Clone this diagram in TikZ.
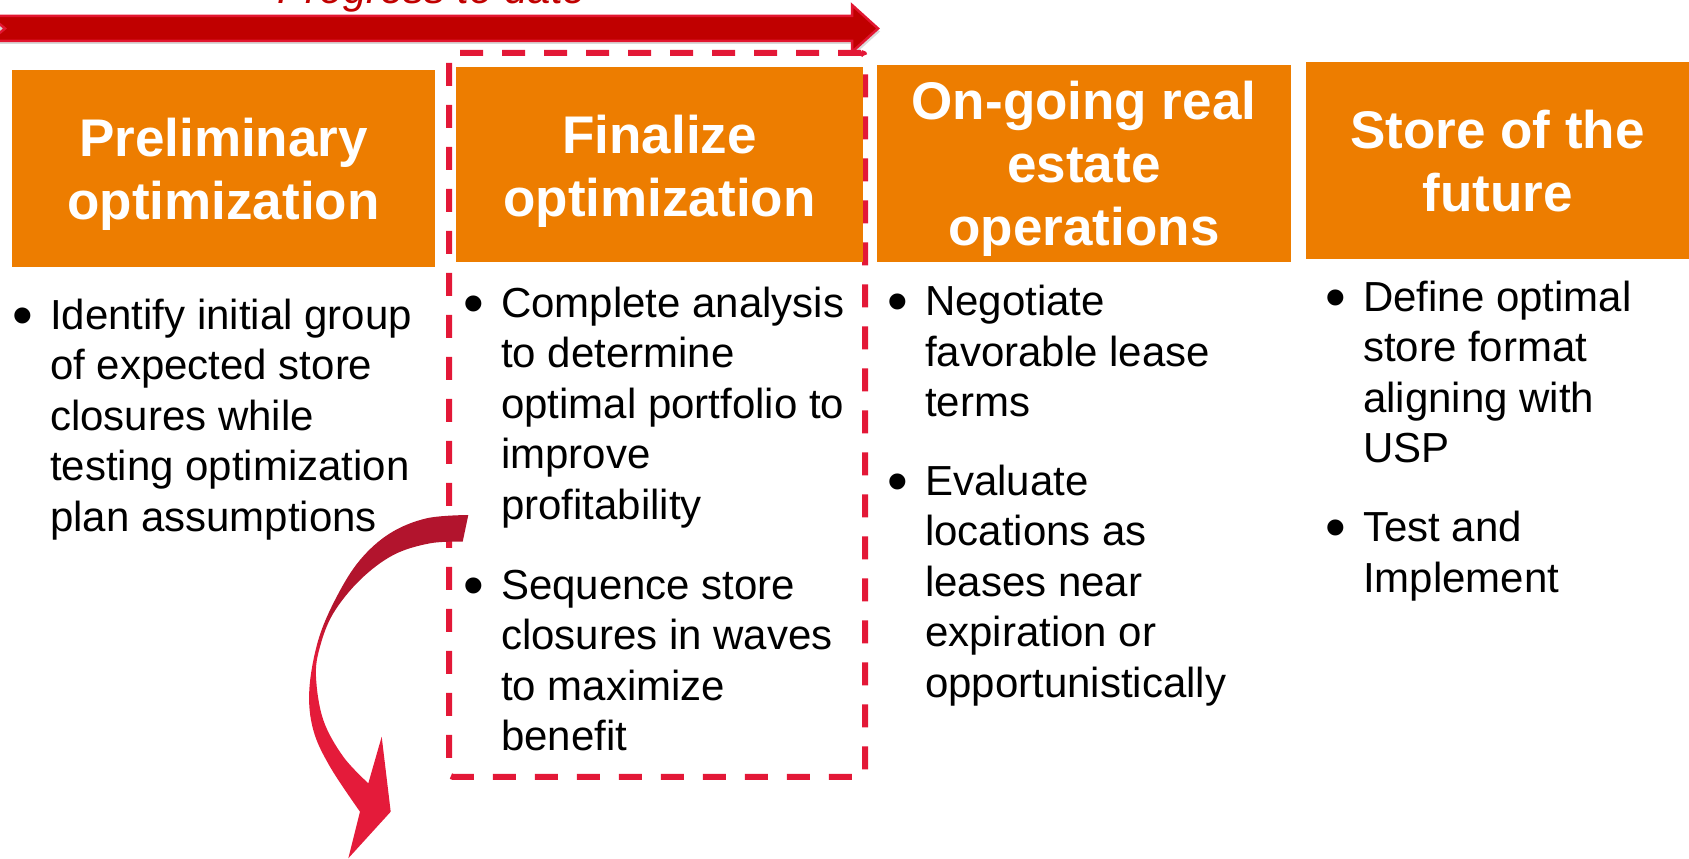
\documentclass[tikz,border=0pt]{standalone}
\usepackage{fontspec}
\setmainfont{Liberation Sans}
\definecolor{stageorange}{RGB}{237,125,0}
\definecolor{focusred}{RGB}{227,24,55}
\definecolor{progressred}{RGB}{192,0,0}
\definecolor{progressedge}{RGB}{226,22,48}
\definecolor{curvedark}{RGB}{178,20,45}
\definecolor{curvebright}{RGB}{228,27,58}
% dark upper half of the bent arrow fading into a bright lower half
\pgfdeclareverticalshading{curveshade}{100bp}{color(0bp)=(curvebright); color(54bp)=(curvebright); color(61bp)=(curvedark); color(100bp)=(curvedark)}
% hanging bullet, a little larger than the body text
\newcommand\bul{\llap{\raisebox{-6pt}{\fontsize{59}{50}\selectfont•}\hskip 16.7pt}}
\begin{document}
\begin{tikzpicture}[x=1pt,y=-1pt,
  stagebox/.style={fill=stageorange, draw=none, inner sep=0pt, outer sep=0pt},
  stagetitle/.style={text=white, font=\fontsize{53}{63.3}\selectfont\bfseries, align=center, anchor=base, inner sep=0pt},
  bodytext/.style={font=\fontsize{42}{50.5}\selectfont, align=left, anchor=base west, inner sep=0pt, text=black},
  focusframe/.style={draw=focusred, line width=6pt, dash pattern=on 23pt off 19pt, rounded corners=4pt, inner sep=0pt}]
\useasboundingbox (0,0) rectangle (1689,859);

% progress arrow across the top
\fill[black, opacity=0.15, shift={(2,3)}] (-10,16) -- (852,16) -- (852,5) -- (878,28.5) -- (852,52) -- (852,41) -- (-10,41) -- cycle;
\filldraw[fill=progressred, draw=progressedge, line width=2.5pt, line join=miter]
  (-10,16) -- (852,16) -- (852,5) -- (878,28.5) -- (852,52) -- (852,41) -- (-10,41) -- (5,28.5) -- cycle;
\node[font=\fontsize{42}{50}\selectfont\itshape, text=progressred, anchor=base, inner sep=0pt] (progress) at (432,4) {Progress to date};

% current stage frame
\node[focusframe, minimum width=416pt, minimum height=724pt] (focus) at (657,414.9) {};

% stage header boxes
\node[stagebox, minimum width=423pt, minimum height=197pt] (box1) at (223.5,168.5) {};
\node[stagebox, minimum width=407pt, minimum height=195pt] (box2) at (659.5,164.5) {};
\node[stagebox, minimum width=414pt, minimum height=197pt] (box3) at (1084,163.5) {};
\node[stagebox, minimum width=383pt, minimum height=197pt] (box4) at (1497.5,160.5) {};

% titles: positions give the baseline of the last line
\node[stagetitle] (head1) at (223.5,219.5) {Preliminary\\optimization};
\node[stagetitle] (head2) at (659.5,216.8) {Finalize\\optimization};
\node[stagetitle] (head3) at (1084,245.6) {On-going real\\estate\\operations};
\node[stagetitle] (head4) at (1497.5,211.8) {Store of the\\future};

% bullet lists: positions give the baseline of the last line
\node[bodytext] (list1) at (50,531) {\bul Identify initial group\\of expected store\\closures while\\testing optimization\\plan assumptions};
\node[bodytext] (list2) at (501,750.5) {\bul Complete analysis\\to determine\\optimal portfolio to\\improve\\profitability\\[29.5pt]\bul Sequence store\\closures in waves\\to maximize\\benefit};
\node[bodytext] (list3) at (925,697) {\bul Negotiate\\favorable lease\\terms\\[28pt]\bul Evaluate\\locations as\\leases near\\expiration or\\opportunistically};
\node[bodytext] (list4) at (1363,592) {\bul Define optimal\\store format\\aligning with\\USP\\[28.5pt]\bul Test and\\Implement};

% bent arrow pointing down and out of the frame
\shade[shading=curveshade]
  plot[smooth, tension=0.6] coordinates {(468.3,515) (426.7,518.3) (390,533.3) (360,560) (336.7,596.7) (318.3,640) (309.3,690) (313.3,730) (330,766.7) (360,811.7)}
  -- (348.3,858.3) -- (390.7,811.7) -- (381.7,736.7) -- (368.3,783.3)
  -- plot[smooth, tension=0.6] coordinates {(368.3,783.3) (343.3,756.7) (323.3,720) (316,676.7) (320,646.7) (333.3,613.3) (360,580) (393.3,555) (430,543.3) (462.7,541.7)}
  -- cycle;
\end{tikzpicture}
\end{document}
